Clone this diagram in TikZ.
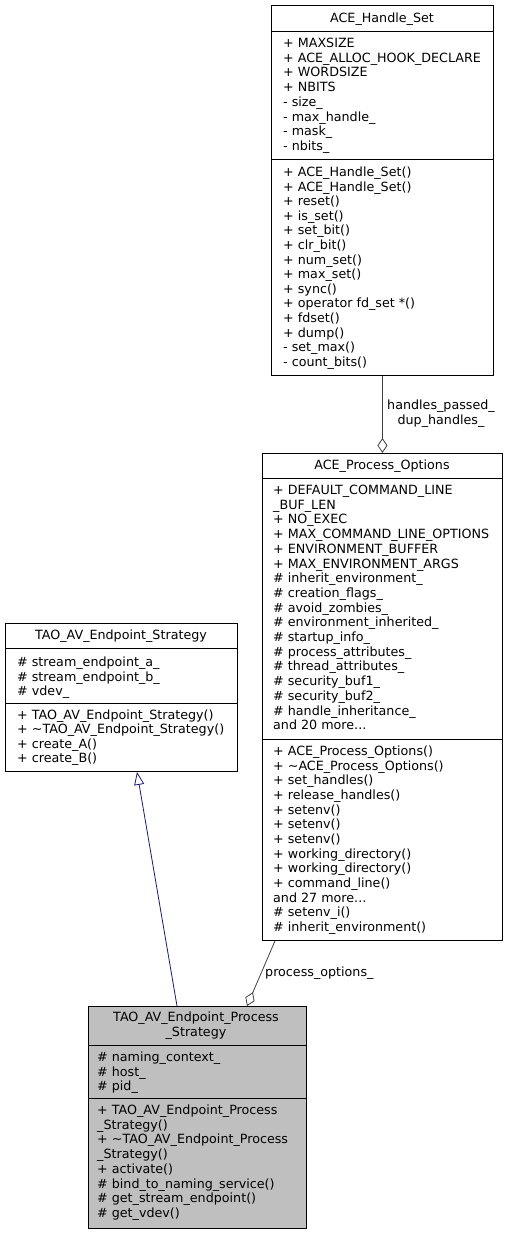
\documentclass[tikz,border=0pt]{standalone}
\usepackage{fontspec}
\setmainfont{DejaVu Sans}
\usetikzlibrary{arrows.meta,calc}
\newcommand{\fsz}{\fontsize{12.7}{14}\selectfont}
\newcommand{\myellip}{...}
\definecolor{edgegray}{HTML}{404040}
\definecolor{inhblue}{HTML}{191970}
\definecolor{curfill}{HTML}{BFBFBF}
\begin{document}
\begin{tikzpicture}[x=1pt,y=-1pt,
  box/.style={draw=black, line width=0.9pt, inner sep=0, anchor=north west},
  sepline/.style={line width=0.9pt},
  txt/.style={anchor=base west, inner sep=0, font=\fsz},
  ttl/.style={anchor=base, inner sep=0, font=\fsz},
  agg/.style={draw=edgegray, line width=0.8pt, -{Diamond[open, length=15, width=10, line width=0.8pt]}},
  inh/.style={draw=inhblue, line width=0.8pt, -{Triangle[open, length=13, width=10, line width=0.8pt]}},
  elabel/.style={inner sep=0, font=\fsz}]
\useasboundingbox (0,0) rectangle (508,1235);

% ---------- ACE_Handle_Set ----------
\node[box, minimum width=222, minimum height=370] (hs) at (271,5) {};
\node[ttl] (hsT) at (382,22.5) {ACE\_Handle\_Set};
\draw[sepline] (271,31) -- (493,31);
\draw[sepline] (271,159) -- (493,159);
\foreach \t [count=\i from 0] in {+ MAXSIZE, + ACE\_ALLOC\_HOOK\_DECLARE, + WORDSIZE, + NBITS,
  - size\_, - max\_handle\_, - mask\_, - nbits\_}
  \node[txt] (hsA\i) at (283, 47.5+14.7*\i) {\t};
\foreach \t [count=\i from 0] in {+ ACE\_Handle\_Set(), + ACE\_Handle\_Set(), + reset(), + is\_set(),
  + set\_bit(), + clr\_bit(), + num\_set(), + max\_set(), + sync(), + operator fd\_set *(),
  + fdset(), + dump(), - set\_max(), - count\_bits()}
  \node[txt] (hsM\i) at (283, 176.5+14.6*\i) {\t};

% ---------- ACE_Process_Options ----------
\node[box, minimum width=240, minimum height=487] (po) at (262,453) {};
\node[ttl] (poT) at (382,469.5) {ACE\_Process\_Options};
\draw[sepline] (262,478) -- (502,478);
\draw[sepline] (262,739) -- (502,739);
\foreach \t [count=\i from 0] in {+ DEFAULT\_COMMAND\_LINE, \_BUF\_LEN, + NO\_EXEC,
  + MAX\_COMMAND\_LINE\_OPTIONS, + ENVIRONMENT\_BUFFER, + MAX\_ENVIRONMENT\_ARGS,
  \# inherit\_environment\_, \# creation\_flags\_, \# avoid\_zombies\_,
  \# environment\_inherited\_, \# startup\_info\_, \# process\_attributes\_,
  \# thread\_attributes\_, \# security\_buf1\_, \# security\_buf2\_,
  \# handle\_inheritance\_, and 20 more\myellip}
  \node[txt] (poA\i) at (273, 494.5+14.7*\i) {\t};
\foreach \t [count=\i from 0] in {+ ACE\_Process\_Options(), + \textasciitilde ACE\_Process\_Options(),
  + set\_handles(), + release\_handles(), + setenv(), + setenv(), + setenv(),
  + working\_directory(), + working\_directory(), + command\_line(), and 27 more\myellip,
  \# setenv\_i(), \# inherit\_environment()}
  \node[txt] (poM\i) at (273, 755.5+14.67*\i) {\t};

% ---------- TAO_AV_Endpoint_Strategy ----------
\node[box, minimum width=232, minimum height=148] (es) at (5,623) {};
\node[ttl] (esT) at (121,639.5) {TAO\_AV\_Endpoint\_Strategy};
\draw[sepline] (5,648) -- (237,648);
\draw[sepline] (5,703) -- (237,703);
\foreach \t [count=\i from 0] in {\# stream\_endpoint\_a\_, \# stream\_endpoint\_b\_, \# vdev\_}
  \node[txt] (esA\i) at (17, 666.5+14.5*\i) {\t};
\foreach \t [count=\i from 0] in {+ TAO\_AV\_Endpoint\_Strategy(), + \textasciitilde TAO\_AV\_Endpoint\_Strategy(),
  + create\_A(), + create\_B()}
  \node[txt] (esM\i) at (17, 719+14.5*\i) {\t};

% ---------- TAO_AV_Endpoint_Process_Strategy ----------
\node[box, fill=curfill, minimum width=218, minimum height=222] (eps) at (88,1006) {};
\node[ttl] (epsT1) at (196,1021.5) {TAO\_AV\_Endpoint\_Process};
\node[ttl] (epsT2) at (196,1036.5) {\_Strategy};
\draw[sepline] (88,1045) -- (306,1045);
\draw[sepline] (88,1098) -- (306,1098);
\foreach \t [count=\i from 0] in {\# naming\_context\_, \# host\_, \# pid\_}
  \node[txt] (epsA\i) at (97, 1061.5+14.5*\i) {\t};
\foreach \t [count=\i from 0] in {+ TAO\_AV\_Endpoint\_Process, \_Strategy(),
  + \textasciitilde TAO\_AV\_Endpoint\_Process, \_Strategy(), + activate(),
  \# bind\_to\_naming\_service(), \# get\_stream\_endpoint(), \# get\_vdev()}
  \node[txt] (epsM\i) at (97, 1114.5+14.7*\i) {\t};

% ---------- connectors ----------
\draw[agg] (hs.south) -- (po.north);
\node[elabel, anchor=base] (lbl1) at (441,409.5) {handles\_passed\_};
\node[elabel, anchor=base] (lbl2) at (441,424.5) {dup\_handles\_};

\draw[agg] ($(po.south west)+(13,0)$) -- ($(eps.north west)+(159,0)$);
\node[elabel, anchor=base west] (lbl3) at (265,976.5) {process\_options\_};

\draw[inh] ($(eps.north west)+(89,0)$) -- ($(es.south west)+(132,0)$);
\end{tikzpicture}
\end{document}
